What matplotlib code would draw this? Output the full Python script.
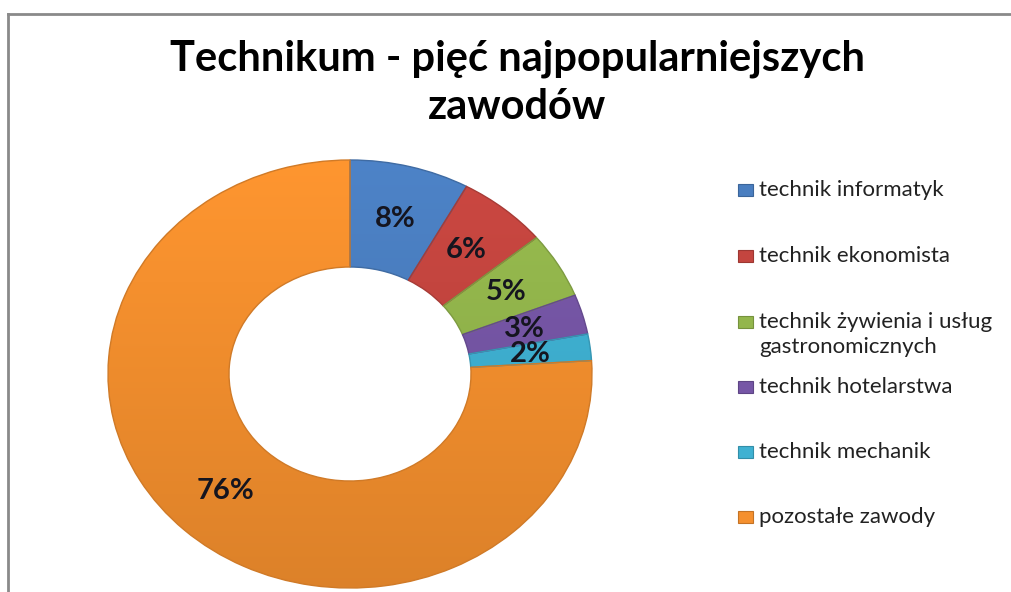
import matplotlib
matplotlib.use("Agg")
import matplotlib.pyplot as plt
import numpy as np
from matplotlib.patches import Rectangle
from matplotlib.lines import Line2D
from matplotlib.colors import to_rgb

title = "Technikum - pięć najpopularniejszych\nzawodów"
categories = ["technik informatyk", "technik ekonomista",
              "technik żywienia i usług\ngastronomicznych",
              "technik hotelarstwa", "technik mechanik", "pozostałe zawody"]
values = [8, 6, 5, 3, 2, 76]
colors = ["#4A7EC0", "#C4453F", "#93B64C", "#7656A6", "#3FB1D2", "#F5902E"]

W, H = 1012, 592
fig = plt.figure(figsize=(W / 100, H / 100), dpi=100)
fig.patch.set_facecolor("white")

# frame lines (top and left only, as in the cropped original)
fig.add_artist(Line2D([8 / W, 1.0], [1 - 14 / H, 1 - 14 / H], color="#8a8a8a", lw=2))
fig.add_artist(Line2D([8 / W, 8 / W], [0, 1 - 14 / H], color="#8a8a8a", lw=2))

# donut axes: x 108..592, y 160..588 (pixels from top)
ax = fig.add_axes([108 / W, (H - 588) / H, 484 / W, 428 / H])
wedges, texts, autotexts = ax.pie(
    values, colors=colors, startangle=90, counterclock=False,
    radius=1.0, wedgeprops=dict(width=0.5, linewidth=1.0),
    autopct=lambda p: f"{p:.0f}%", pctdistance=0.75,
    textprops=dict(fontsize=21, fontweight="bold", color="#15151f", family="Lato"))
ax.set_aspect("auto")
ax.axis("off")


def shade(c, f):
    r, g, b = to_rgb(c)
    return (min(r * f, 1), min(g * f, 1), min(b * f, 1))


# vertical light-to-dark shading clipped to each wedge
yy = np.linspace(1, -1, 200)[:, None]
fac = 1.04 - 0.14 * (1 - yy) / 2
for w, c in zip(wedges, colors):
    w.set_edgecolor(shade(c, 0.85))
    base = np.array(to_rgb(c))
    img = np.clip(fac[:, :, None] * base[None, None, :], 0, 1)
    img = np.repeat(img, 2, axis=1)
    im = ax.imshow(img, extent=(-1, 1, -1, 1), aspect="auto", zorder=w.get_zorder() + 0.1,
                   interpolation="bilinear")
    im.set_clip_path(w)
for w in wedges:
    w.set_facecolor("none")
    w.set_zorder(3)
for t in autotexts:
    t.set_zorder(5)
ax.set_xlim(-1, 1)
ax.set_ylim(-1, 1)

# title (two lines, placed by baseline)
for line, base_y in zip(title.split("\n"), [71, 119]):
    fig.text(517 / W, 1 - base_y / H, line, ha="center", va="baseline", fontsize=30,
             fontweight="bold", family="Lato", color="black")

# legend (manual, one entry per category)
ys = [190, 256, 322, 387, 452, 517]
for lab, c, y in zip(categories, colors, ys):
    fig.add_artist(Rectangle((738 / W, 1 - (y + 6) / H), 15 / W, 12 / H,
                             facecolor=c, edgecolor=shade(c, 0.8), lw=0.8))
    parts = lab.split("\n")
    for k, part in enumerate(parts):
        fig.text(759 / W, 1 - (y + 25 * k) / H, part, ha="left", va="center",
                 fontsize=16, family="Lato", color="#222222")

fig.savefig("out.png", dpi=100)
